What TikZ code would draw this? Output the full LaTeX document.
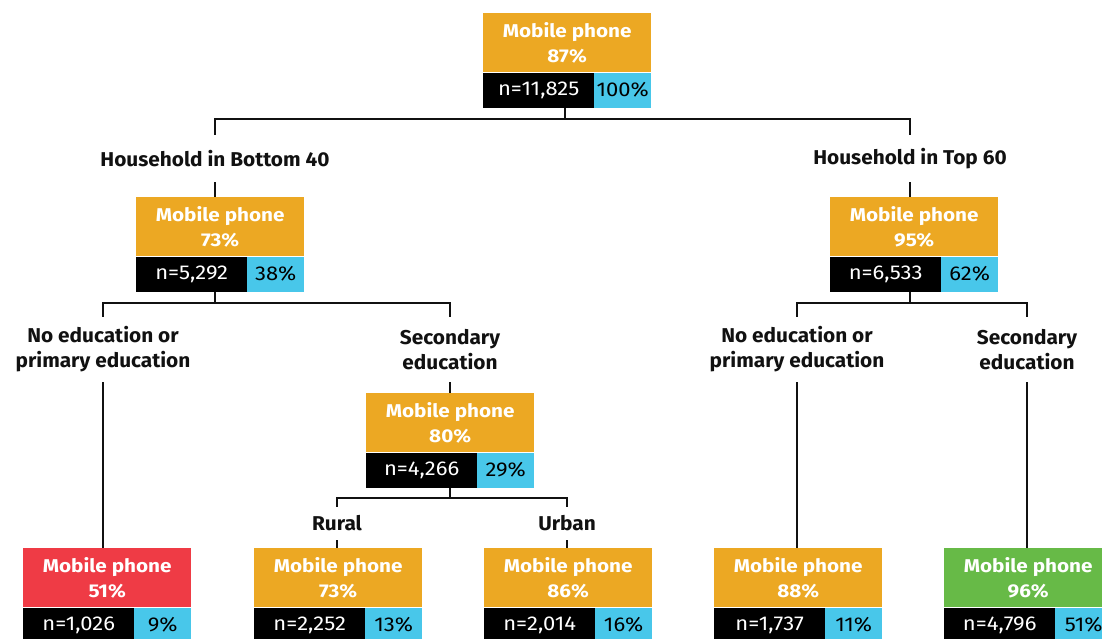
\documentclass[tikz,border=0pt]{standalone}
\usepackage{fontspec}
\setmainfont{Fira Sans}
\newfontfamily\lblfont{Fira Sans}[FakeStretch=1.04]
\newfontfamily\headfont{Fira Sans}[FakeStretch=1.12]
\newfontfamily\rowfont{Fira Sans}[FakeStretch=1.1]
\usetikzlibrary{calc}
\definecolor{cOrange}{RGB}{236,168,35}
\definecolor{cBlue}{RGB}{72,199,234}
\definecolor{cRed}{RGB}{239,59,69}
\definecolor{cGreen}{RGB}{103,186,71}
\definecolor{cText}{RGB}{17,17,17}
\tikzset{
  headbox/.style={minimum width=168pt, minimum height=59pt, inner sep=0pt, align=center,
    text=white, font=\headfont\bfseries\fontsize{18.5}{25}\selectfont},
  nbox/.style={minimum width=111pt, minimum height=35pt, inner sep=0pt, fill=black,
    text=white, font=\rowfont\fontsize{20}{22}\selectfont},
  sbox/.style={minimum width=57pt, minimum height=35pt, inner sep=0pt, fill=cBlue,
    text=black, font=\rowfont\fontsize{20}{22}\selectfont},
  lbl/.style={inner sep=0pt, align=center, text=cText, font=\lblfont\bfseries\fontsize{20}{25}\selectfont},
  conn/.style={line width=2.8pt, draw=cText}
}
\newcommand\treebox[7]{%
  \node[headbox, fill=#4, anchor=north west] (#1) at (#2,#3) {Mobile phone\\#5};
  \node[nbox, anchor=north west] (#1-n) at (#1.south west) {n=#6};
  \node[sbox, anchor=north east] (#1-s) at (#1.south east) {#7};
}
\begin{document}
\begin{tikzpicture}[x=1pt,y=-1pt]
\clip (0,0) rectangle (1102,639);
\fill[white] (0,0) rectangle (1102,639);

% boxes
\treebox{top}{483}{13}{cOrange}{87\%}{11,825}{100\%}
\treebox{bl}{136}{197}{cOrange}{73\%}{5,292}{38\%}
\treebox{tr}{830}{197}{cOrange}{95\%}{6,533}{62\%}
\treebox{sec}{366}{393}{cOrange}{80\%}{4,266}{29\%}
\treebox{b1}{23}{548}{cRed}{51\%}{1,026}{9\%}
\treebox{b2}{254}{548}{cOrange}{73\%}{2,252}{13\%}
\treebox{b3}{484}{548}{cOrange}{86\%}{2,014}{16\%}
\treebox{b4}{714}{548}{cOrange}{88\%}{1,737}{11\%}
\treebox{b5}{944}{548}{cGreen}{96\%}{4,796}{51\%}

% labels
\node[lbl, minimum height=47pt] (hb40) at (215,158.5) {Household in Bottom 40};
\node[lbl, minimum height=47pt] (ht60) at (910,158.5) {Household in Top 60};
\node[lbl, minimum height=65pt] (e1) at (103,349.5) {No education or\\primary education};
\node[lbl, minimum height=65pt] (e2) at (450,349.5) {Secondary\\education};
\node[lbl, minimum height=65pt] (e3) at (797,349.5) {No education or\\primary education};
\node[lbl, minimum height=65pt] (e4) at (1027,349.5) {Secondary\\education};
\node[lbl, minimum height=33pt] (ru) at (337,523.5) {Rural};
\node[lbl, minimum height=33pt] (ur) at (567,523.5) {Urban};

% connectors
\coordinate (j0) at (565,119);
\draw[conn] (top-n.south -| j0) -- (j0);
\draw[conn] (hb40.north) |- (j0) -| (ht60.north);
\draw[conn] (hb40.south) -- (hb40.south |- bl.north);
\draw[conn] (ht60.south) -- (ht60.south |- tr.north);

\coordinate (j1) at (215,303);
\draw[conn] (bl-n.south -| j1) -- (j1);
\draw[conn] (e1.north) |- (j1) -| (e2.north);
\coordinate (j2) at (910,303);
\draw[conn] (tr-n.south -| j2) -- (j2);
\draw[conn] (e3.north) |- (j2) -| (e4.north);

\draw[conn] (e1.south) -- (e1.south |- b1.north);
\draw[conn] (e2.south) -- (e2.south |- sec.north);
\draw[conn] (e3.south) -- (e3.south |- b4.north);
\draw[conn] (e4.south) -- (e4.south |- b5.north);

\coordinate (j3) at (450,498);
\draw[conn] (sec-n.south -| j3) -- (j3);
\draw[conn] (ru.north) |- (j3) -| (ur.north);
\draw[conn] (ru.south) -- (ru.south |- b2.north);
\draw[conn] (ur.south) -- (ur.south |- b3.north);
\end{tikzpicture}
\end{document}
